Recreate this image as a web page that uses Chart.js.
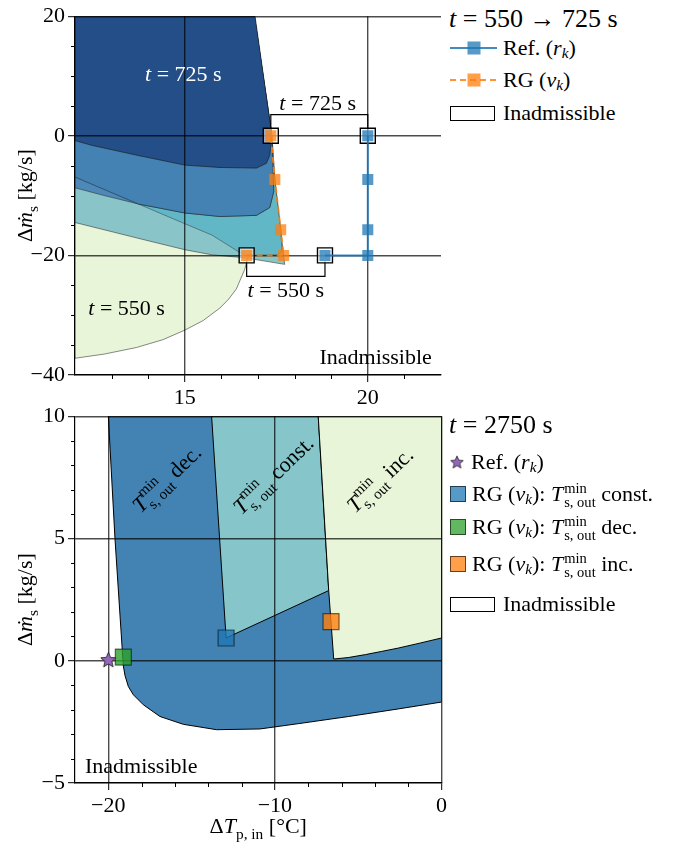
<!DOCTYPE html>
<html>
<head>
<meta charset="utf-8">
<script src="https://cdn.jsdelivr.net/npm/chart.js@4.4.1/dist/chart.umd.min.js"></script>
<style>
  body { margin: 0; background: #fff; }
  #wrap { position: relative; width: 678px; height: 843px; overflow: hidden;
          font-family: "Liberation Serif", "DejaVu Serif", serif; color: #000; }
  #wrap canvas { position: absolute; left: 0; }
  .lg { position: absolute; left: 450px; height: 30px; display: flex; align-items: center;
        font-size: 22px; white-space: nowrap; }
  .ttl { font-size: 26px; left: 449px; }
  .lg sub { font-size: 0.7em; vertical-align: baseline; position: relative; top: 0.3em; line-height: 0; }
  .ss { display: inline-flex; flex-direction: column; font-size: 0.66em; line-height: 0.98;
        margin-left: 1px; position: relative; top: 1px; }
  .box { width: 45px; height: 15px; border: 1px solid #000; box-sizing: border-box; margin-right: 8px; }
  .sq { width: 16px; height: 16px; box-sizing: border-box; border: 1px solid rgba(0,0,0,0.6); margin-right: 6px; }
</style>
</head>
<body>
<div id="wrap">
  <canvas id="topChart" width="445" height="405" style="top:0px"></canvas>
  <canvas id="botChart" width="450" height="443" style="top:400px"></canvas>

  <!-- top legend -->
  <div class="lg ttl" style="top:4px"><i>t</i>&nbsp;=&nbsp;550&nbsp;→&nbsp;725 s</div>
  <div class="lg" style="top:33px"><svg width="47" height="16" style="margin-right:6px"><line x1="0" y1="8" x2="47" y2="8" stroke="rgba(31,119,180,0.85)" stroke-width="2"/><rect x="17.5" y="1.5" width="13" height="13" fill="rgba(31,119,180,0.75)"/></svg>Ref. (<i>r</i><sub><i>k</i></sub>)</div>
  <div class="lg" style="top:65px"><svg width="47" height="16" style="margin-right:6px"><line x1="0" y1="8" x2="47" y2="8" stroke="rgba(255,127,14,0.85)" stroke-width="2" stroke-dasharray="6,4"/><rect x="17.5" y="1.5" width="13" height="13" fill="rgba(255,127,14,0.75)"/></svg>RG (<i>v</i><sub><i>k</i></sub>)</div>
  <div class="lg" style="top:98px"><div class="box"></div>Inadmissible</div>

  <!-- bottom legend -->
  <div class="lg ttl" style="top:410px"><i>t</i>&nbsp;=&nbsp;2750 s</div>
  <div class="lg" style="top:447px"><img id="legStar" width="16" height="16" style="margin:0 6px 0 -1px">Ref. (<i>r</i><sub><i>k</i></sub>)</div>
  <div class="lg" style="top:479px"><div class="sq" style="background:rgba(31,119,180,0.75)"></div>RG (<i>v</i><sub><i>k</i></sub>):&nbsp;<i>T</i><span class="ss"><span>min</span><span>s, out</span></span>&nbsp;const.</div>
  <div class="lg" style="top:512px"><div class="sq" style="background:rgba(44,160,44,0.75)"></div>RG (<i>v</i><sub><i>k</i></sub>):&nbsp;<i>T</i><span class="ss"><span>min</span><span>s, out</span></span>&nbsp;dec.</div>
  <div class="lg" style="top:549px"><div class="sq" style="background:rgba(255,127,14,0.75)"></div>RG (<i>v</i><sub><i>k</i></sub>):&nbsp;<i>T</i><span class="ss"><span>min</span><span>s, out</span></span>&nbsp;inc.</div>
  <div class="lg" style="top:589px"><div class="box"></div>Inadmissible</div>
</div>

<script>
const SERIF = '"Liberation Serif", "DejaVu Serif", serif';

/*
    Top panel: t = 550 -> 725 s
*/
const topXTicks = [15, 20];
const topYTicks = [-40, -20, 0, 20];
const topXMinor = [13, 14, 16, 17, 18, 19, 21];
const topYMinor = [-35, -30, -25, -15, -10, -5, 5, 10, 15];

// reference trajectory r_k and governed trajectory v_k
const refX = [18.83, 20, 20, 20, 20];
const refY = [-20, -20, -15.7, -7.3, 0];
const rgX = [16.69, 17.70, 17.62, 17.46, 17.35];
const rgY = [-20, -20, -15.7, -7.3, 0];
// start / end points (t = 550 and t = 725)
const endX = [16.69, 18.83, 17.35, 20];
const endY = [-20, -20, 0, 0];
// brackets
const brk725X = [17.35, 17.35, 20, 20];
const brk725Y = [0.9, 3.55, 3.55, 0.9];
const brk550X = [16.69, 16.69, 18.83, 18.83];
const brk550Y = [-21.0, -23.5, -23.5, -21.0];

// admissible sets, boundary polygons [x, y]
const setT550 = [[12,20],[16.48,20],[16.82,1.6],[16.85,-3.8],[16.82,-12],[16.73,-20.1],[16.64,-22.3],[16.41,-25.6],
  [16.2,-27.3],[15.96,-28.8],[15.5,-30.9],[15,-32.5],[14.4,-34.1],[13.68,-35.4],[12.8,-36.5],[12,-37.2]];
const setT600 = [[12,20],[16.9,20],[17.38,0],[17.46,-7.3],[17.62,-15.7],[17.69,-19.6],[17.73,-21.5],[16.64,-20.4],
  [15.74,-19.9],[15,-19.05],[13.7,-17.1],[12,-14.5]];
const setT650 = [[12,20],[16.9,20],[17.38,0],[17.46,-7.3],[17.62,-15.7],[17.66,-19.2],[17.55,-19.9],[16.7,-20],
  [16.5,-19.5],[15.74,-16.6],[15,-14.7],[13.73,-11.4],[12,-6.9]];
const setT675 = [[12,20],[16.9,20],[17.38,0],[17.43,-9.3],[17.32,-12.0],[16.96,-13.3],[15.96,-13.5],[15,-12.9],
  [13.73,-11.4],[12.8,-10.0],[12,-8.7]];
const setT700 = [[12,20],[16.9,20],[17.38,0],[17.43,-9.3],[17.32,-12.0],[16.96,-13.3],[15.96,-13.5],[15,-12.9],
  [13.73,-11.4],[12,-6.9]];
const setT725 = [[12,20],[16.92,20],[17.38,0],[17.35,-1.6],[17.32,-3.3],[17.23,-4.6],[16.96,-5.4],[15.96,-5.3],
  [15,-4.9],[13.73,-3.3],[12.46,-1.6],[12,-0.8]];

/*
    Bottom panel: t = 2750 s
*/
const botXTicks = [-20, -10, 0];
const botYTicks = [-5, 0, 5, 10];
const botXMinor = [-18, -16, -14, -12, -8, -6, -4, -2];
const botYMinor = [-4, -3, -2, -1, 1, 2, 3, 4, 6, 7, 8, 9];

const refPtX = [-20.0];
const refPtY = [0.05];
const rgConstX = [-12.93];
const rgConstY = [0.93];
const rgDecX = [-19.1];
const rgDecY = [0.15];
const rgIncX = [-6.63];
const rgIncY = [1.6];

const setDec = [[-20,10],[0,10],[0,-1.69],[-2.59,-1.97],[-5.57,-2.28],[-8.56,-2.57],[-10.9,-2.79],[-13.5,-2.82],
  [-15.5,-2.6],[-16.9,-2.28],[-17.9,-1.8],[-18.5,-1.39],[-18.8,-1.05],[-19.0,-0.6],[-19.1,-0.2],[-19.6,5]];
const setConst = [[-13.8,10],[-7.4,10],[-6.77,2.87],[-12.93,0.93]];
const setInc = [[-7.4,10],[0,10],[0,0.93],[-1.3,0.72],[-2.58,0.52],[-3.6,0.38],[-4.57,0.25],[-5.6,0.13],[-6.47,0.07],[-6.77,2.87]];


function pts(xs, ys){
    return xs.map((v, i) => ({x: v, y: ys[i]}));
}

function fmt(v){
    return v < 0 ? '\u2212' + Math.abs(v) : String(v);
}

function runFont(size, italic){
    return (italic ? 'italic ' : '') + size + 'px ' + SERIF;
}

// runs: [text, italic, sizeFactor, dy(em), stackWithNext]
function measureRuns(ctx, runs, size){
    var w = 0, stackW = 0;
    for (const r of runs) {
        ctx.font = runFont(size * (r[2] || 1), r[1]);
        var rw = ctx.measureText(r[0]).width;
        if (r[4]) { stackW = Math.max(stackW, rw); continue; }
        w += Math.max(rw, stackW);
        stackW = 0;
    }
    return w;
}

function drawRuns(ctx, runs, cx, cy, size, color, align, angle){
    ctx.save();
    ctx.translate(cx, cy);
    if (angle) ctx.rotate(angle);
    var w = measureRuns(ctx, runs, size);
    var x = align === 'left' ? 0 : (align === 'right' ? -w : -w / 2);
    var base = size * 0.33;
    ctx.fillStyle = color;
    ctx.textAlign = 'left';
    ctx.textBaseline = 'alphabetic';
    var stackW = 0;
    for (const r of runs) {
        ctx.font = runFont(size * (r[2] || 1), r[1]);
        ctx.fillText(r[0], x, base + size * (r[3] || 0));
        var rw = ctx.measureText(r[0]).width;
        if (r[4]) { stackW = Math.max(stackW, rw); continue; }
        x += Math.max(rw, stackW);
        stackW = 0;
    }
    ctx.restore();
}

function tRuns(n){
    return [['t', true], [' = ' + n + ' s', false]];
}

function tminRuns(word){
    return [['T', true], ['min', false, 0.68, -0.45, true], ['s, out', false, 0.68, 0.28], [' ' + word, false]];
}

const mdotTitle = [['\u0394', false], ['\u1E41', true], ['s', false, 0.7, 0.25], [' [kg/s]', false]];
const dtTitle = [['\u0394', false], ['T', true], ['p, in', false, 0.7, 0.25], [' [\u00B0C]', false]];

// regions, minor ticks, labels and axis titles
function decorPlugin(cfg){
    return {
        id: 'decor',
        beforeDraw(chart){
            const {ctx, chartArea} = chart;
            const x = chart.scales.x, y = chart.scales.y;
            ctx.save();
            ctx.beginPath();
            ctx.rect(chartArea.left, chartArea.top, chartArea.right - chartArea.left, chartArea.bottom - chartArea.top);
            ctx.clip();
            for (const r of cfg.regions) {
                ctx.beginPath();
                r.pts.forEach((p, i) => {
                    var px = x.getPixelForValue(p[0]), py = y.getPixelForValue(p[1]);
                    if (i) ctx.lineTo(px, py); else ctx.moveTo(px, py);
                });
                ctx.closePath();
                ctx.fillStyle = r.color;
                ctx.fill();
                ctx.strokeStyle = r.edge;
                ctx.lineWidth = 1;
                ctx.stroke();
            }
            ctx.restore();
        },
        afterDraw(chart){
            const {ctx, chartArea} = chart;
            const x = chart.scales.x, y = chart.scales.y;
            ctx.save();
            ctx.strokeStyle = '#000';
            ctx.lineWidth = 1;
            ctx.beginPath();
            for (const v of cfg.minorX) {
                var px = Math.round(x.getPixelForValue(v)) + 0.5;
                ctx.moveTo(px, chartArea.bottom);
                ctx.lineTo(px, chartArea.bottom + 4);
            }
            for (const v of cfg.minorY) {
                var py = Math.round(y.getPixelForValue(v)) + 0.5;
                ctx.moveTo(chartArea.left - 4, py);
                ctx.lineTo(chartArea.left, py);
            }
            ctx.stroke();
            ctx.restore();

            for (const l of cfg.labels) {
                drawRuns(ctx, l.runs, x.getPixelForValue(l.x), y.getPixelForValue(l.y), 22, l.color || '#000',
                    l.align || 'center', l.angle ? -l.angle * Math.PI / 180 : 0);
            }
            drawRuns(ctx, mdotTitle, 25, (chartArea.top + chartArea.bottom) / 2, 22, '#000', 'center', -Math.PI / 2);
            if (cfg.xTitle) {
                drawRuns(ctx, cfg.xTitle, (chartArea.left + chartArea.right) / 2, cfg.xTitleY, 22, '#000', 'center', 0);
            }
        }
    };
}

function axis(min, max, majors, fitKey, fitVal){
    var a = {
        type: 'linear',
        min: min,
        max: max,
        afterBuildTicks: (s) => { s.ticks = majors.map((v) => ({value: v})); },
        ticks: {
            font: {family: SERIF, size: 22},
            color: '#000',
            padding: 3,
            maxRotation: 0,
            autoSkip: false,
            callback: (v) => fmt(v)
        },
        grid: {
            color: 'rgba(0,0,0,0.7)',
            lineWidth: 1.4,
            tickLength: 7,
            tickColor: '#000',
            tickWidth: 1
        },
        border: {color: '#000', width: 1.2}
    };
    a.afterFit = (s) => { s[fitKey] = fitVal; };
    return a;
}

function makeStar(r){
    var c = document.createElement('canvas');
    var s = Math.ceil(r * 2 + 3);
    c.width = s; c.height = s;
    var g = c.getContext('2d');
    g.beginPath();
    for (var i = 0; i < 10; i++) {
        var a = -Math.PI / 2 + i * Math.PI / 5;
        var rr = i % 2 ? r * 0.45 : r;
        g.lineTo(s / 2 + rr * Math.cos(a), s / 2 + rr * Math.sin(a) + r * 0.1);
    }
    g.closePath();
    g.fillStyle = '#9467bd';
    g.fill();
    g.strokeStyle = '#222';
    g.lineWidth = 0.9;
    g.stroke();
    return c;
}

const baseOptions = (pad) => ({
    responsive: false,
    animation: false,
    events: [],
    layout: {padding: pad, autoPadding: false},
    plugins: {legend: {display: false}, tooltip: {enabled: false}}
});

function drawTopChart(){
    var opts = baseOptions({top: 8, right: 4, left: 0, bottom: 0});
    opts.scales = {
        x: axis(12, 22, topXTicks, 'height', 30),
        y: axis(-40, 20, topYTicks, 'width', 75)
    };
    new Chart(document.getElementById('topChart'), {
        type: 'scatter',
        data: {
            datasets: [
                {
                    label: 'RG',
                    data: pts(rgX, rgY),
                    showLine: true,
                    borderColor: 'rgba(255,127,14,0.85)',
                    borderWidth: 2,
                    borderDash: [6, 4],
                    pointStyle: 'rect',
                    pointRadius: 7.8,
                    pointBackgroundColor: 'rgba(255,127,14,0.75)',
                    pointBorderWidth: 0,
                    order: 0
                },
                {
                    label: 'Ref',
                    data: pts(refX, refY),
                    showLine: true,
                    borderColor: 'rgba(31,119,180,0.85)',
                    borderWidth: 2,
                    pointStyle: 'rect',
                    pointRadius: 7.8,
                    pointBackgroundColor: 'rgba(31,119,180,0.75)',
                    pointBorderWidth: 0,
                    order: 1
                },
                {
                    label: 'ends',
                    data: pts(endX, endY),
                    showLine: false,
                    pointStyle: 'rect',
                    pointRadius: 10.6,
                    pointBackgroundColor: 'rgba(255,255,255,0.55)',
                    pointBorderColor: '#000',
                    pointBorderWidth: 1.4,
                    order: 2
                },
                {
                    label: 'b725',
                    data: pts(brk725X, brk725Y),
                    showLine: true,
                    borderColor: '#000',
                    borderWidth: 1.2,
                    pointRadius: 0,
                    order: 3
                },
                {
                    label: 'b550',
                    data: pts(brk550X, brk550Y),
                    showLine: true,
                    borderColor: '#000',
                    borderWidth: 1.2,
                    pointRadius: 0,
                    order: 4
                }
            ]
        },
        options: opts,
        plugins: [decorPlugin({
            regions: [
                {pts: setT550, color: '#e9f5d9', edge: 'rgba(40,40,40,0.55)'},
                {pts: setT600, color: '#89c4c9', edge: 'rgba(40,40,40,0.55)'},
                {pts: setT650, color: '#62b7c6', edge: 'rgba(40,40,40,0.45)'},
                {pts: setT675, color: '#4e88b9', edge: 'rgba(30,30,30,0.5)'},
                {pts: setT700, color: '#4582b4', edge: 'rgba(30,30,30,0.5)'},
                {pts: setT725, color: '#244e87', edge: 'rgba(20,20,20,0.6)'}
            ],
            minorX: topXMinor,
            minorY: topYMinor,
            labels: [
                {x: 14.96, y: 10.3, runs: tRuns(725), color: '#fff'},
                {x: 13.41, y: -28.7, runs: tRuns(550)},
                {x: 18.63, y: 5.6, runs: tRuns(725)},
                {x: 17.76, y: -25.75, runs: tRuns(550)},
                {x: 21.75, y: -37.0, runs: [['Inadmissible', false]], align: 'right'}
            ]
        })]
    });
}

function drawBotChart(){
    var star = makeStar(8);
    document.getElementById('legStar').src = makeStar(7.5).toDataURL();

    var opts = baseOptions({top: 16, right: 7, left: 0, bottom: 0});
    opts.scales = {
        x: axis(-22, 0, botXTicks, 'height', 60),
        y: axis(-5, 10, botYTicks, 'width', 75)
    };
    var sq = (xs, ys, col, ord) => ({
        data: pts(xs, ys),
        showLine: false,
        pointStyle: 'rect',
        pointRadius: 11.3,
        pointBackgroundColor: col,
        pointBorderColor: 'rgba(0,0,0,0.55)',
        pointBorderWidth: 1.2,
        order: ord
    });
    new Chart(document.getElementById('botChart'), {
        type: 'scatter',
        data: {
            datasets: [
                {
                    label: 'Ref',
                    data: pts(refPtX, refPtY),
                    pointStyle: star,
                    pointRadius: 8,
                    order: 0
                },
                sq(rgConstX, rgConstY, 'rgba(31,119,180,0.8)', 1),
                sq(rgDecX, rgDecY, 'rgba(44,160,44,0.8)', 2),
                sq(rgIncX, rgIncY, 'rgba(255,127,14,0.8)', 3)
            ]
        },
        options: opts,
        plugins: [decorPlugin({
            regions: [
                {pts: setDec, color: '#4383b4', edge: '#000'},
                {pts: setConst, color: '#86c6ca', edge: '#000'},
                {pts: setInc, color: '#e8f5d8', edge: '#000'}
            ],
            minorX: botXMinor,
            minorY: botYMinor,
            labels: [
                {x: -16.5, y: 7.45, runs: tminRuns('dec.'), angle: 44},
                {x: -10.1, y: 7.6, runs: tminRuns('const.'), angle: 44},
                {x: -3.7, y: 7.4, runs: tminRuns('inc.'), angle: 44},
                {x: -21.4, y: -4.3, runs: [['Inadmissible', false]], align: 'left'}
            ],
            xTitle: dtTitle,
            xTitleY: 426
        })]
    });
}

drawTopChart();
drawBotChart();
</script>
</body>
</html>
